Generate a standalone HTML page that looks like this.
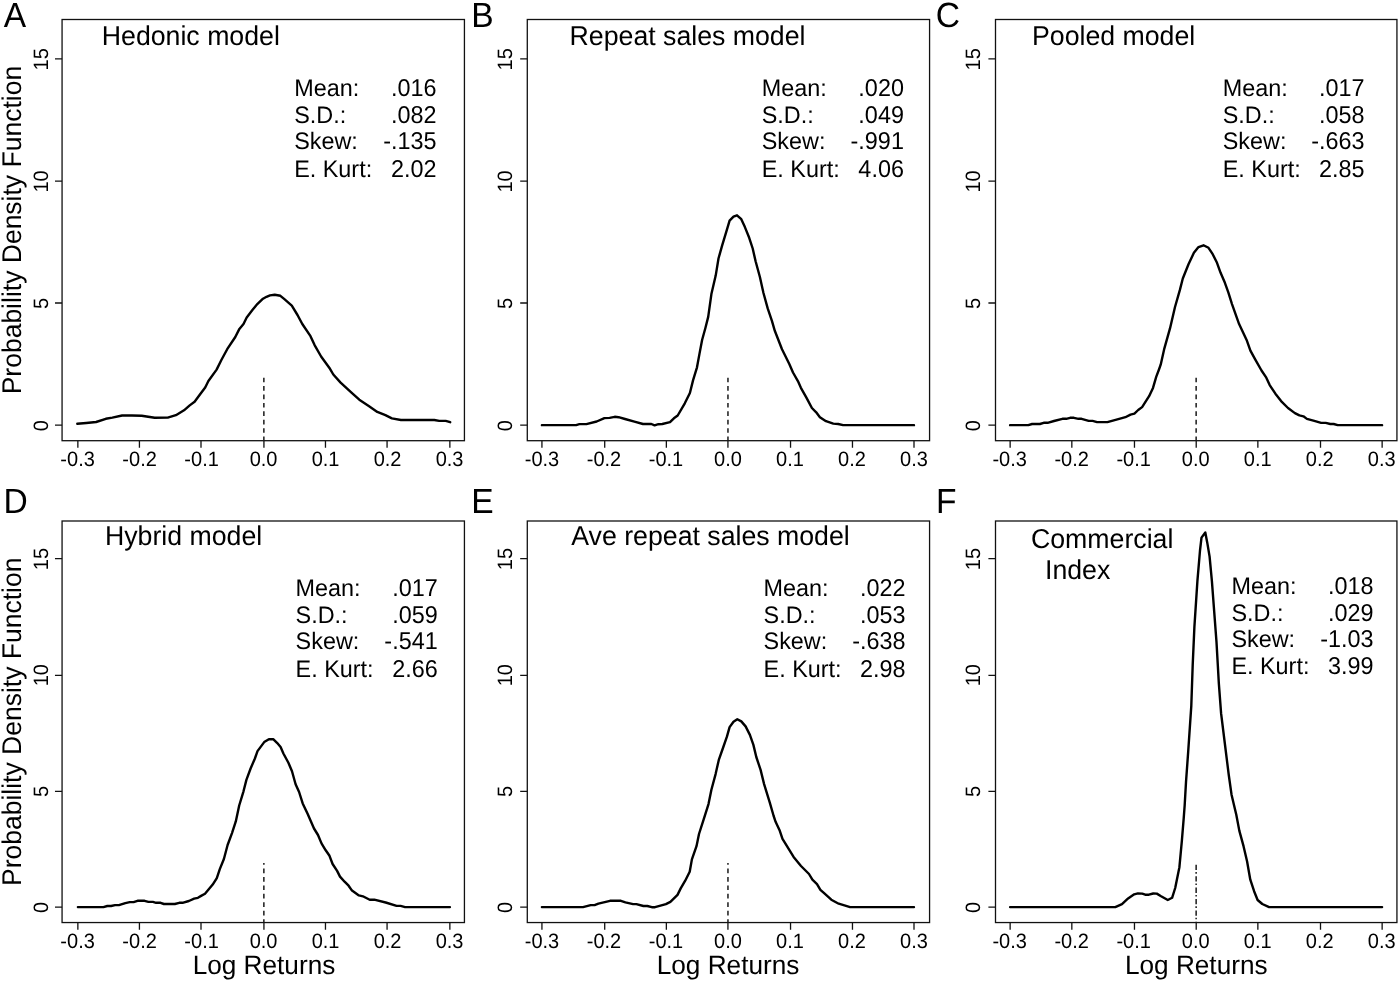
<!DOCTYPE html>
<html><head><meta charset="utf-8"><title>Figure</title>
<style>
html,body{margin:0;padding:0;background:#fff;}
svg{display:block;will-change:transform;}
text{font-family:"Liberation Sans", sans-serif;fill:#000;text-rendering:geometricPrecision;}
</style></head><body>
<svg width="1400" height="982" viewBox="0 0 1400 982">
<rect x="0" y="0" width="1400" height="982" fill="#fff"/>
<g id="panelA">
<rect x="62.07" y="19.5" width="402.36" height="421.2" fill="none" stroke="#111" stroke-width="1.3"/>
<path d="M77.86 440.7V447.8M139.43 440.7V447.8M201 440.7V447.8M263.93 440.7V447.8M325.47 440.7V447.8M387.07 440.7V447.8M449.86 440.7V447.8M62.07 425.2H54.97M62.07 303H54.97M62.07 181.03H54.97M62.07 58.93H54.97" stroke="#111" stroke-width="1.3" fill="none"/>
<text transform="translate(77.6 466.2) scale(1 1.04)" font-size="20" text-anchor="middle">-0.3</text>
<text transform="translate(139.6 466.2) scale(1 1.04)" font-size="20" text-anchor="middle">-0.2</text>
<text transform="translate(201.6 466.2) scale(1 1.04)" font-size="20" text-anchor="middle">-0.1</text>
<text transform="translate(263.6 466.2) scale(1 1.04)" font-size="20" text-anchor="middle">0.0</text>
<text transform="translate(325.6 466.2) scale(1 1.04)" font-size="20" text-anchor="middle">0.1</text>
<text transform="translate(387.6 466.2) scale(1 1.04)" font-size="20" text-anchor="middle">0.2</text>
<text transform="translate(449.6 466.2) scale(1 1.04)" font-size="20" text-anchor="middle">0.3</text>
<text transform="translate(47.57 425.6) rotate(-90) scale(1 1.04)" font-size="20" text-anchor="middle">0</text>
<text transform="translate(47.57 303.51) rotate(-90) scale(1 1.04)" font-size="20" text-anchor="middle">5</text>
<text transform="translate(47.57 181.42) rotate(-90) scale(1 1.04)" font-size="20" text-anchor="middle">10</text>
<text transform="translate(47.57 59.33) rotate(-90) scale(1 1.04)" font-size="20" text-anchor="middle">15</text>
<line x1="263.86" y1="377.7" x2="263.86" y2="440.7" stroke="#1a1a1a" stroke-width="1.5" stroke-dasharray="4.65 3.76"/>
<polyline points="77.3,423.8 86.3,423 96.1,422 105.8,418.8 112.3,417.6 122.1,415.5 131.9,415.5 141.7,415.7 148.2,416.8 154.7,417.8 167.7,417.6 175.9,415.2 184,410.3 189.7,405.4 194.6,401.8 200.3,394 205.2,387.5 208.4,381 216.6,369.6 221.5,359.8 227.2,349.2 235.3,337 239.4,328.9 243.5,324 246.7,317.5 252.4,310.1 257.3,304.1 263,298.7 266.5,296.8 270,295.4 274.7,294.7 280.4,295.8 284.4,299.2 291.8,305.7 297.5,315 302.3,324 310.5,336.2 314.6,345.1 321.1,356.5 330,368.8 333.3,374.5 340.6,382.6 351.2,392.4 359.3,399.7 369.1,406.2 377.3,411.9 385.4,415.2 391.9,418.4 400.9,419.95 434.3,419.95 439.2,420.9 445.7,420.9 450.2,422.2" fill="none" stroke="#000" stroke-width="2.4" stroke-linejoin="round" stroke-linecap="round"/>
<text transform="translate(101.8 44.6) scale(1 1.02)" font-size="26.7">Hedonic model</text>
<text transform="translate(294.15 96) scale(1 1.02)" font-size="23.4">Mean:</text>
<text transform="translate(436.5 96) scale(1 1.04)" font-size="23.4" text-anchor="end">.016</text>
<text transform="translate(294.15 122.8) scale(1 1.02)" font-size="23.4">S.D.:</text>
<text transform="translate(436.5 122.8) scale(1 1.04)" font-size="23.4" text-anchor="end">.082</text>
<text transform="translate(294.15 149.4) scale(1 1.02)" font-size="23.4">Skew:</text>
<text transform="translate(436.5 149.4) scale(1 1.04)" font-size="23.4" text-anchor="end">-.135</text>
<text transform="translate(294.15 176.6) scale(1 1.02)" font-size="23.4">E. Kurt:</text>
<text transform="translate(436.5 176.6) scale(1 1.04)" font-size="23.4" text-anchor="end">2.02</text>
<text transform="translate(3.7 26.9) scale(1 1.04)" font-size="33.6">A</text>
<text transform="translate(21.4 230.1) rotate(-90) scale(1 1.02)" font-size="26.5" text-anchor="middle">Probability Density Function</text>
</g>
<g id="panelB">
<rect x="527.29" y="19.5" width="402.28" height="421.2" fill="none" stroke="#111" stroke-width="1.3"/>
<path d="M541.93 440.7V447.8M604.71 440.7V447.8M666.36 440.7V447.8M727.93 440.7V447.8M790.54 440.7V447.8M852.47 440.7V447.8M914 440.7V447.8M527.29 425.2H520.19M527.29 303H520.19M527.29 181.03H520.19M527.29 58.93H520.19" stroke="#111" stroke-width="1.3" fill="none"/>
<text transform="translate(542 466.2) scale(1 1.04)" font-size="20" text-anchor="middle">-0.3</text>
<text transform="translate(604 466.2) scale(1 1.04)" font-size="20" text-anchor="middle">-0.2</text>
<text transform="translate(666 466.2) scale(1 1.04)" font-size="20" text-anchor="middle">-0.1</text>
<text transform="translate(728 466.2) scale(1 1.04)" font-size="20" text-anchor="middle">0.0</text>
<text transform="translate(790 466.2) scale(1 1.04)" font-size="20" text-anchor="middle">0.1</text>
<text transform="translate(852 466.2) scale(1 1.04)" font-size="20" text-anchor="middle">0.2</text>
<text transform="translate(914 466.2) scale(1 1.04)" font-size="20" text-anchor="middle">0.3</text>
<text transform="translate(512.49 425.6) rotate(-90) scale(1 1.04)" font-size="20" text-anchor="middle">0</text>
<text transform="translate(512.49 303.51) rotate(-90) scale(1 1.04)" font-size="20" text-anchor="middle">5</text>
<text transform="translate(512.49 181.42) rotate(-90) scale(1 1.04)" font-size="20" text-anchor="middle">10</text>
<text transform="translate(512.49 59.33) rotate(-90) scale(1 1.04)" font-size="20" text-anchor="middle">15</text>
<line x1="727.96" y1="377.7" x2="727.96" y2="440.7" stroke="#1a1a1a" stroke-width="1.5" stroke-dasharray="4.65 3.76"/>
<polyline points="541.9,425.15 576.1,425.15 579.4,424.1 586.4,424.1 596.7,421.5 604.4,418.1 609.6,417.9 614.7,416.8 618.6,417.2 625,419 635.3,421.8 643,424 651.4,424 654.6,425.4 658.4,424.2 662.3,424 670,422.2 673.9,418.3 677.7,415.5 684.8,403.3 689.9,393 693.1,380.1 697,367.3 699.6,353.1 702.1,340 705.4,328 708.2,316.9 711.4,294.1 715.7,275.6 718.5,258.5 722.1,245.6 726.4,231.4 729.6,220.7 733.5,216.7 737,215.3 741.3,219.2 744.9,227.1 749.2,237.8 752.7,248.5 755.6,261.3 759.9,277 763.4,292.7 767.7,308.4 772,321.2 774.8,330.8 782,349.3 789.3,364 793,372.5 797.9,381.1 800.9,387.8 806.4,397.6 811.9,408 816.2,412.3 819.9,417.2 826,421.2 833.3,423.6 838.2,424 843.1,425.15 914,425.15" fill="none" stroke="#000" stroke-width="2.4" stroke-linejoin="round" stroke-linecap="round"/>
<text transform="translate(569.6 45.4) scale(1 1.02)" font-size="26.7">Repeat sales model</text>
<text transform="translate(761.75 96) scale(1 1.02)" font-size="23.4">Mean:</text>
<text transform="translate(903.9 96) scale(1 1.04)" font-size="23.4" text-anchor="end">.020</text>
<text transform="translate(761.75 122.5) scale(1 1.02)" font-size="23.4">S.D.:</text>
<text transform="translate(903.9 122.5) scale(1 1.04)" font-size="23.4" text-anchor="end">.049</text>
<text transform="translate(761.75 149.3) scale(1 1.02)" font-size="23.4">Skew:</text>
<text transform="translate(903.9 149.3) scale(1 1.04)" font-size="23.4" text-anchor="end">-.991</text>
<text transform="translate(761.75 176.8) scale(1 1.02)" font-size="23.4">E. Kurt:</text>
<text transform="translate(903.9 176.8) scale(1 1.04)" font-size="23.4" text-anchor="end">4.06</text>
<text transform="translate(471.2 26.8) scale(1 1.04)" font-size="33.6">B</text>
</g>
<g id="panelC">
<rect x="995.5" y="19.5" width="401.43" height="421.2" fill="none" stroke="#111" stroke-width="1.3"/>
<path d="M1010.14 440.7V447.8M1071.83 440.7V447.8M1134.47 440.7V447.8M1196.21 440.7V447.8M1257.86 440.7V447.8M1320.5 440.7V447.8M1382.14 440.7V447.8M995.5 425.2H988.4M995.5 303H988.4M995.5 181.03H988.4M995.5 58.93H988.4" stroke="#111" stroke-width="1.3" fill="none"/>
<text transform="translate(1009.66 466.2) scale(1 1.04)" font-size="20" text-anchor="middle">-0.3</text>
<text transform="translate(1071.66 466.2) scale(1 1.04)" font-size="20" text-anchor="middle">-0.2</text>
<text transform="translate(1133.66 466.2) scale(1 1.04)" font-size="20" text-anchor="middle">-0.1</text>
<text transform="translate(1195.66 466.2) scale(1 1.04)" font-size="20" text-anchor="middle">0.0</text>
<text transform="translate(1257.66 466.2) scale(1 1.04)" font-size="20" text-anchor="middle">0.1</text>
<text transform="translate(1319.66 466.2) scale(1 1.04)" font-size="20" text-anchor="middle">0.2</text>
<text transform="translate(1381.66 466.2) scale(1 1.04)" font-size="20" text-anchor="middle">0.3</text>
<text transform="translate(979.8 425.6) rotate(-90) scale(1 1.04)" font-size="20" text-anchor="middle">0</text>
<text transform="translate(979.8 303.51) rotate(-90) scale(1 1.04)" font-size="20" text-anchor="middle">5</text>
<text transform="translate(979.8 181.42) rotate(-90) scale(1 1.04)" font-size="20" text-anchor="middle">10</text>
<text transform="translate(979.8 59.33) rotate(-90) scale(1 1.04)" font-size="20" text-anchor="middle">15</text>
<line x1="1196.14" y1="377.7" x2="1196.14" y2="440.7" stroke="#1a1a1a" stroke-width="1.5" stroke-dasharray="4.65 3.76"/>
<polyline points="1010.1,425.15 1028.3,425.15 1032.1,424 1039.9,424 1043.7,422.8 1047.6,422.8 1054,421 1062.4,418.8 1066.2,418.8 1070.1,417.8 1073.9,417.8 1078.4,418.8 1081.6,418.8 1088.7,420.9 1092.6,420.9 1097.1,422.1 1107.4,422.1 1118.3,419.1 1125.4,417.2 1130.5,414.6 1134.4,413.7 1138.2,410 1142.1,407.1 1149.1,396.2 1153,387.9 1156.2,376.9 1158.8,370 1160.7,364.7 1164.1,349.4 1170,328.4 1175,307 1179.9,289.9 1182.8,278.5 1188.5,264.2 1193.9,252.8 1198.5,247.1 1203.5,245.3 1208.5,247.8 1212.7,254.2 1217,262.8 1220.6,272.8 1224.9,282.8 1228.4,292.7 1232,304.1 1239.1,324.1 1246.6,339.9 1250.4,350.7 1254.9,358.9 1261.5,370.5 1266.3,377.7 1269.7,385.1 1275.4,393.7 1281.1,401.1 1288,408 1294.9,413.1 1299.4,415.4 1303.4,416.3 1306.9,418.9 1314.3,420.9 1321.1,422.9 1325.7,422.9 1330.3,424 1333.7,424 1337.7,425.15 1382.1,425.15" fill="none" stroke="#000" stroke-width="2.4" stroke-linejoin="round" stroke-linecap="round"/>
<text transform="translate(1032 45.4) scale(1 1.02)" font-size="26.7">Pooled model</text>
<text transform="translate(1222.75 96) scale(1 1.02)" font-size="23.4">Mean:</text>
<text transform="translate(1364.5 96) scale(1 1.04)" font-size="23.4" text-anchor="end">.017</text>
<text transform="translate(1222.75 122.5) scale(1 1.02)" font-size="23.4">S.D.:</text>
<text transform="translate(1364.5 122.5) scale(1 1.04)" font-size="23.4" text-anchor="end">.058</text>
<text transform="translate(1222.75 149.3) scale(1 1.02)" font-size="23.4">Skew:</text>
<text transform="translate(1364.5 149.3) scale(1 1.04)" font-size="23.4" text-anchor="end">-.663</text>
<text transform="translate(1222.75 176.8) scale(1 1.02)" font-size="23.4">E. Kurt:</text>
<text transform="translate(1364.5 176.8) scale(1 1.04)" font-size="23.4" text-anchor="end">2.85</text>
<text transform="translate(935.8 26.8) scale(1 1.04)" font-size="33.6">C</text>
</g>
<g id="panelD">
<rect x="62.07" y="521" width="402.36" height="401.55" fill="none" stroke="#111" stroke-width="1.3"/>
<path d="M77.86 922.55V929.65M139.43 922.55V929.65M201 922.55V929.65M263.93 922.55V929.65M325.47 922.55V929.65M387.07 922.55V929.65M449.86 922.55V929.65M62.07 907.15H54.97M62.07 791.29H54.97M62.07 675.43H54.97M62.07 558.65H54.97" stroke="#111" stroke-width="1.3" fill="none"/>
<text transform="translate(77.6 948.05) scale(1 1.04)" font-size="20" text-anchor="middle">-0.3</text>
<text transform="translate(139.6 948.05) scale(1 1.04)" font-size="20" text-anchor="middle">-0.2</text>
<text transform="translate(201.6 948.05) scale(1 1.04)" font-size="20" text-anchor="middle">-0.1</text>
<text transform="translate(263.6 948.05) scale(1 1.04)" font-size="20" text-anchor="middle">0.0</text>
<text transform="translate(325.6 948.05) scale(1 1.04)" font-size="20" text-anchor="middle">0.1</text>
<text transform="translate(387.6 948.05) scale(1 1.04)" font-size="20" text-anchor="middle">0.2</text>
<text transform="translate(449.6 948.05) scale(1 1.04)" font-size="20" text-anchor="middle">0.3</text>
<text transform="translate(47.57 907.55) rotate(-90) scale(1 1.04)" font-size="20" text-anchor="middle">0</text>
<text transform="translate(47.57 791.38) rotate(-90) scale(1 1.04)" font-size="20" text-anchor="middle">5</text>
<text transform="translate(47.57 675.22) rotate(-90) scale(1 1.04)" font-size="20" text-anchor="middle">10</text>
<text transform="translate(47.57 559.05) rotate(-90) scale(1 1.04)" font-size="20" text-anchor="middle">15</text>
<line x1="263.86" y1="862.9" x2="263.86" y2="922.55" stroke="#1a1a1a" stroke-width="1.5" stroke-dasharray="4.65 3.78" stroke-dashoffset="2.75"/>
<polyline points="77.9,907.1 103.4,907.1 107.3,906 111.1,906 115,905.1 118.9,905.1 125.3,903.1 129.8,902.1 133.6,902.1 137.5,900.8 144.6,900.8 148.4,901.9 152.9,901.9 156.1,902.8 160.6,902.8 163.9,904 174.8,904 179.3,902.8 182.5,902.8 188.9,901 194.1,898.7 197.9,897.8 201.1,895.9 205,893.8 212.7,884.6 216.8,878.1 219.8,869.1 223.9,859 227.6,845 232,833.1 235.8,821.4 239.2,805.5 243.5,791.3 246.4,779.9 250.6,768.5 254.9,758.5 257.5,751.1 264.2,742.1 268.9,739.2 273.2,739.1 277,742.8 280.6,747.1 283.4,753.5 288.4,762.8 292,771.3 295.6,784.2 299.1,792 302.7,803.4 307.7,814.1 314,828.5 318,835 321.5,843.4 325.7,850.3 329.5,855.8 332.6,864 337.1,870.9 340,876.6 344.6,881.7 348.6,885.7 352,890.6 358.9,895.4 362.9,896.3 369.7,899.8 374.3,899.7 385.7,902.5 396.6,905.9 400.6,905.9 405.1,907.1 449.9,907.1" fill="none" stroke="#000" stroke-width="2.4" stroke-linejoin="round" stroke-linecap="round"/>
<text transform="translate(105 545.3) scale(1 1.02)" font-size="26.7">Hybrid model</text>
<text transform="translate(295.6 596) scale(1 1.02)" font-size="23.4">Mean:</text>
<text transform="translate(437.7 596) scale(1 1.04)" font-size="23.4" text-anchor="end">.017</text>
<text transform="translate(295.6 622.5) scale(1 1.02)" font-size="23.4">S.D.:</text>
<text transform="translate(437.7 622.5) scale(1 1.04)" font-size="23.4" text-anchor="end">.059</text>
<text transform="translate(295.6 649.3) scale(1 1.02)" font-size="23.4">Skew:</text>
<text transform="translate(437.7 649.3) scale(1 1.04)" font-size="23.4" text-anchor="end">-.541</text>
<text transform="translate(295.6 676.8) scale(1 1.02)" font-size="23.4">E. Kurt:</text>
<text transform="translate(437.7 676.8) scale(1 1.04)" font-size="23.4" text-anchor="end">2.66</text>
<text transform="translate(3.5 513) scale(1 1.04)" font-size="33.6">D</text>
<text transform="translate(263.96 973.9) scale(1 1.02)" font-size="26.2" text-anchor="middle">Log Returns</text>
<text transform="translate(21.4 721.77) rotate(-90) scale(1 1.02)" font-size="26.5" text-anchor="middle">Probability Density Function</text>
</g>
<g id="panelE">
<rect x="527.29" y="521" width="402.28" height="401.55" fill="none" stroke="#111" stroke-width="1.3"/>
<path d="M541.93 922.55V929.65M604.71 922.55V929.65M666.36 922.55V929.65M727.93 922.55V929.65M790.54 922.55V929.65M852.47 922.55V929.65M914 922.55V929.65M527.29 907.15H520.19M527.29 791.29H520.19M527.29 675.43H520.19M527.29 558.65H520.19" stroke="#111" stroke-width="1.3" fill="none"/>
<text transform="translate(542 948.05) scale(1 1.04)" font-size="20" text-anchor="middle">-0.3</text>
<text transform="translate(604 948.05) scale(1 1.04)" font-size="20" text-anchor="middle">-0.2</text>
<text transform="translate(666 948.05) scale(1 1.04)" font-size="20" text-anchor="middle">-0.1</text>
<text transform="translate(728 948.05) scale(1 1.04)" font-size="20" text-anchor="middle">0.0</text>
<text transform="translate(790 948.05) scale(1 1.04)" font-size="20" text-anchor="middle">0.1</text>
<text transform="translate(852 948.05) scale(1 1.04)" font-size="20" text-anchor="middle">0.2</text>
<text transform="translate(914 948.05) scale(1 1.04)" font-size="20" text-anchor="middle">0.3</text>
<text transform="translate(512.49 907.55) rotate(-90) scale(1 1.04)" font-size="20" text-anchor="middle">0</text>
<text transform="translate(512.49 791.38) rotate(-90) scale(1 1.04)" font-size="20" text-anchor="middle">5</text>
<text transform="translate(512.49 675.22) rotate(-90) scale(1 1.04)" font-size="20" text-anchor="middle">10</text>
<text transform="translate(512.49 559.05) rotate(-90) scale(1 1.04)" font-size="20" text-anchor="middle">15</text>
<line x1="727.96" y1="862.9" x2="727.96" y2="922.55" stroke="#1a1a1a" stroke-width="1.5" stroke-dasharray="4.65 3.78" stroke-dashoffset="2.75"/>
<polyline points="541.9,907.1 583,907.1 590.7,905.1 594.6,905.1 598.4,903.6 610,900.8 620.9,900.8 625.4,902.3 633.1,904.1 636.4,904.1 643.4,906 647.3,906 651.8,907.2 655,907.2 661.4,905.4 665.9,904.1 670.4,901.9 677.5,894.9 680.7,888.4 685.2,880.7 689.7,871.7 691.9,859.4 696.5,846.2 699,834 703.6,819.7 708.5,804.1 711.4,789.8 715.6,774.1 718.8,759.9 722.8,748.5 727,736.4 729.6,727.1 733.5,721.7 737.3,719.2 741.3,721.4 745.6,726.4 749.9,734.9 753.4,744.9 756.3,757 760.6,769.9 764.1,784.1 769.8,802.7 773.5,815.5 775.6,821.8 779.8,830.8 782.5,838.9 793.6,856.9 801,866 809,874 812.4,879.7 817,884.1 820.4,889.8 824.4,893.4 831.3,899.7 838.7,903.7 850.1,907.1 914,907.1" fill="none" stroke="#000" stroke-width="2.4" stroke-linejoin="round" stroke-linecap="round"/>
<text transform="translate(571.3 545.25) scale(1 1.02)" font-size="26.7">Ave repeat sales model</text>
<text transform="translate(763.55 596) scale(1 1.02)" font-size="23.4">Mean:</text>
<text transform="translate(905.5 596) scale(1 1.04)" font-size="23.4" text-anchor="end">.022</text>
<text transform="translate(763.55 622.5) scale(1 1.02)" font-size="23.4">S.D.:</text>
<text transform="translate(905.5 622.5) scale(1 1.04)" font-size="23.4" text-anchor="end">.053</text>
<text transform="translate(763.55 649.3) scale(1 1.02)" font-size="23.4">Skew:</text>
<text transform="translate(905.5 649.3) scale(1 1.04)" font-size="23.4" text-anchor="end">-.638</text>
<text transform="translate(763.55 676.8) scale(1 1.02)" font-size="23.4">E. Kurt:</text>
<text transform="translate(905.5 676.8) scale(1 1.04)" font-size="23.4" text-anchor="end">2.98</text>
<text transform="translate(471.2 513) scale(1 1.04)" font-size="33.6">E</text>
<text transform="translate(728.06 973.9) scale(1 1.02)" font-size="26.2" text-anchor="middle">Log Returns</text>
</g>
<g id="panelF">
<rect x="995.5" y="521" width="401.43" height="401.55" fill="none" stroke="#111" stroke-width="1.3"/>
<path d="M1010.14 922.55V929.65M1071.83 922.55V929.65M1134.47 922.55V929.65M1196.21 922.55V929.65M1257.86 922.55V929.65M1320.5 922.55V929.65M1382.14 922.55V929.65M995.5 907.15H988.4M995.5 791.29H988.4M995.5 675.43H988.4M995.5 558.65H988.4" stroke="#111" stroke-width="1.3" fill="none"/>
<text transform="translate(1009.66 948.05) scale(1 1.04)" font-size="20" text-anchor="middle">-0.3</text>
<text transform="translate(1071.66 948.05) scale(1 1.04)" font-size="20" text-anchor="middle">-0.2</text>
<text transform="translate(1133.66 948.05) scale(1 1.04)" font-size="20" text-anchor="middle">-0.1</text>
<text transform="translate(1195.66 948.05) scale(1 1.04)" font-size="20" text-anchor="middle">0.0</text>
<text transform="translate(1257.66 948.05) scale(1 1.04)" font-size="20" text-anchor="middle">0.1</text>
<text transform="translate(1319.66 948.05) scale(1 1.04)" font-size="20" text-anchor="middle">0.2</text>
<text transform="translate(1381.66 948.05) scale(1 1.04)" font-size="20" text-anchor="middle">0.3</text>
<text transform="translate(979.8 907.55) rotate(-90) scale(1 1.04)" font-size="20" text-anchor="middle">0</text>
<text transform="translate(979.8 791.38) rotate(-90) scale(1 1.04)" font-size="20" text-anchor="middle">5</text>
<text transform="translate(979.8 675.22) rotate(-90) scale(1 1.04)" font-size="20" text-anchor="middle">10</text>
<text transform="translate(979.8 559.05) rotate(-90) scale(1 1.04)" font-size="20" text-anchor="middle">15</text>
<line x1="1196.14" y1="864.8" x2="1196.14" y2="922.55" stroke="#1a1a1a" stroke-width="1.5" stroke-dasharray="5.3 2 1.6 2.5"/>
<polyline points="1010.1,907.1 1115.3,907.1 1122,904.1 1128.1,898.4 1134.2,894.3 1137.9,893.4 1142.2,893.6 1145.2,894.7 1148.9,894.7 1153.2,893.5 1156.8,893.6 1161.1,896.2 1167.8,900 1172.1,897.8 1175.2,888 1179.4,867.2 1181.9,840.3 1183.7,818.3 1184.7,805 1186,782.1 1188.2,751.6 1191.3,705.8 1192.7,665 1194.4,626.9 1197.4,581.1 1200,550.5 1201.5,537.6 1205.3,532.5 1207.3,542.9 1209.6,556.6 1211.9,581.1 1214.2,611.6 1216.5,642.1 1217.8,665 1218.8,682.9 1221.1,713.4 1224.9,744 1228.7,774.5 1231.5,794.4 1233.5,803 1236.3,814.7 1239.3,830.6 1243.6,846.4 1247.1,861.5 1250.3,879.7 1254.1,891.2 1257.6,900 1262.3,904 1269.1,907.1 1382.1,907.1" fill="none" stroke="#000" stroke-width="2.4" stroke-linejoin="round" stroke-linecap="round"/>
<text transform="translate(1031 547.8) scale(1 1.02)" font-size="26.7">Commercial</text>
<text transform="translate(1045 579.05) scale(1 1.02)" font-size="26.7">Index</text>
<text transform="translate(1231.4 594) scale(1 1.02)" font-size="23.4">Mean:</text>
<text transform="translate(1373.5 594) scale(1 1.04)" font-size="23.4" text-anchor="end">.018</text>
<text transform="translate(1231.4 620.5) scale(1 1.02)" font-size="23.4">S.D.:</text>
<text transform="translate(1373.5 620.5) scale(1 1.04)" font-size="23.4" text-anchor="end">.029</text>
<text transform="translate(1231.4 647.2) scale(1 1.02)" font-size="23.4">Skew:</text>
<text transform="translate(1373.5 647.2) scale(1 1.04)" font-size="23.4" text-anchor="end">-1.03</text>
<text transform="translate(1231.4 674.3) scale(1 1.02)" font-size="23.4">E. Kurt:</text>
<text transform="translate(1373.5 674.3) scale(1 1.04)" font-size="23.4" text-anchor="end">3.99</text>
<text transform="translate(936 513) scale(1 1.04)" font-size="33.6">F</text>
<text transform="translate(1196.24 973.9) scale(1 1.02)" font-size="26.2" text-anchor="middle">Log Returns</text>
</g>
</svg>
</body></html>
